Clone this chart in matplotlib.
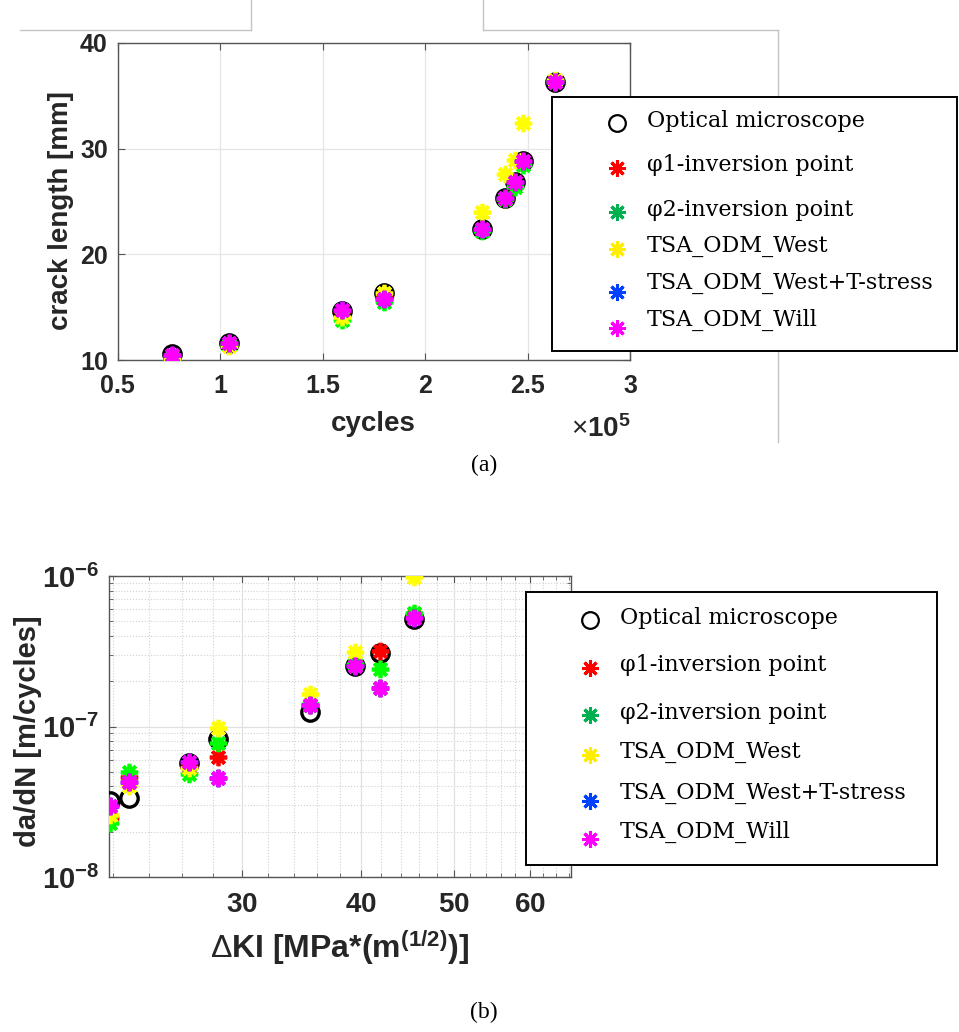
import matplotlib
matplotlib.use("Agg")
import matplotlib.pyplot as plt
from matplotlib.lines import Line2D
from matplotlib.patches import Rectangle
from matplotlib.ticker import FixedLocator, FixedFormatter, NullFormatter

plt.rcParams['font.family'] = ['Liberation Sans', 'DejaVu Sans']
plt.rcParams['mathtext.fontset'] = 'custom'
plt.rcParams['mathtext.rm'] = 'Liberation Sans'
plt.rcParams['mathtext.bf'] = 'Liberation Sans:bold'
plt.rcParams['mathtext.it'] = 'Liberation Sans:italic'

# ---- (a) crack length vs cycles (cycles in units of 1e5) ----
cycles = [0.766, 1.044, 1.594, 1.798, 2.28, 2.39, 2.44, 2.48, 2.634]
a_optical = [10.6, 11.6, 14.6, 16.3, 22.4, 25.3, 26.8, 28.8, 36.3]
a_phi1 = [10.5, 11.6, 14.6, 16.0, 22.4, 25.2, 26.8, 28.8, 36.3]
a_phi2 = [9.9, 11.4, 13.8, 15.5, 22.2, 25.2, 26.4, 28.5, 36.3]
a_west = [10.2, 11.3, 14.1, 16.3, 24.0, 27.6, 28.9, 32.4, 36.5]
a_west_t = [10.5, 11.6, 14.7, 15.8, 22.4, 25.3, 26.8, 28.8, 36.3]
a_will = [10.5, 11.6, 14.7, 15.8, 22.4, 25.3, 26.8, 28.8, 36.3]

# ---- (b) da/dN vs delta K ----
dK = [21.86, 22.87, 26.4, 28.35, 35.34, 39.4, 41.85, 45.4]
dadn_optical = [3.2e-8, 3.37e-8, 5.69e-8, 8.22e-8, 1.256e-7, 2.52e-7, 3.06e-7, 5.15e-7]
dadn_phi1 = [2.45e-8, 4.6e-8, 5.4e-8, 6.3e-8, 1.38e-7, 2.55e-7, 3.18e-7, 5.4e-7]
dadn_phi2 = [2.3e-8, 4.95e-8, 4.83e-8, 7.8e-8, 1.42e-7, 2.6e-7, 2.4e-7, 5.7e-7]
dadn_west = [2.58e-8, 4.03e-8, 5.27e-8, 9.72e-8, 1.64e-7, 3.11e-7, 1.81e-7, 9.9e-7]
dadn_west_t = [2.97e-8, 4.3e-8, 5.83e-8, 4.55e-8, 1.4e-7, 2.52e-7, 1.81e-7, 5.28e-7]
dadn_will = [2.97e-8, 4.3e-8, 5.83e-8, 4.53e-8, 1.4e-7, 2.52e-7, 1.81e-7, 5.28e-7]

labels = ["Optical microscope", "φ1-inversion point", "φ2-inversion point",
          "TSA_ODM_West", "TSA_ODM_West+T-stress", "TSA_ODM_Will"]
colors = ["black", "#ff0000", "#00ff00", "#ffff00", "#0033ff", "#ff00ff"]
leg_colors = ["black", "#ff0000", "#00b050", "#ffee00", "#0040ff", "#ff00ff"]
ASTER = (8, 2, 0)
AX_C = "#555555"
TXT_C = "#262626"

W, H = 959, 1032
fx = lambda px: px / W
fy = lambda py: 1 - py / H

fig = plt.figure(figsize=(W / 100, H / 100), dpi=100)
fig.patch.set_facecolor("white")


def draw_series(ax, x, ys):
    for i, y in enumerate(ys):
        if i == 0:
            ax.plot(x, y, ls="none", marker="o", ms=12.5, mfc="none", mec=colors[0], mew=2.4, zorder=3)
        else:
            ax.plot(x, y, ls="none", marker=ASTER, ms=12.5, mec=colors[i], mew=2.7, zorder=3 + i)


def style_axes(ax):
    for s in ax.spines.values():
        s.set_color(AX_C)
        s.set_linewidth(1.0)
    ax.tick_params(which="both", direction="in", top=True, right=True, colors=AX_C,
                   labelcolor=TXT_C)
    ax.tick_params(which="major", length=5)
    ax.tick_params(which="minor", length=3)


# ---------------- panel (a) ----------------
ax1 = fig.add_axes([fx(117.5), fy(360), 512.5 / W, 317 / H])
draw_series(ax1, cycles, [a_optical, a_phi1, a_phi2, a_west, a_west_t, a_will])
ax1.set_xlim(0.5, 3)
ax1.set_ylim(10, 40)
ax1.set_xticks([0.5, 1, 1.5, 2, 2.5, 3])
ax1.set_xticklabels(["0.5", "1", "1.5", "2", "2.5", "3"])
ax1.set_yticks([10, 20, 30, 40])
ax1.grid(True, color="#e6e6e6", lw=0.9)
ax1.set_axisbelow(True)
style_axes(ax1)
ax1.tick_params(axis="x", pad=10, labelsize=18)
ax1.tick_params(axis="y", pad=7, labelsize=18)
for t in ax1.get_xticklabels() + ax1.get_yticklabels():
    t.set_fontweight("bold")
ax1.set_xlabel("cycles", fontsize=20, fontweight="bold", color=TXT_C)
ax1.set_ylabel("crack length [mm]", fontsize=20, fontweight="bold", color=TXT_C)
ax1.xaxis.set_label_coords(0.5, -0.16)
ax1.yaxis.set_label_coords(-0.085, 0.47)
fig.text(fx(631), fy(437), r"$\times\mathbf{10^{5}}$", ha="right", va="baseline",
         fontsize=20, color=TXT_C)

# ---------------- panel (b) ----------------
ax2 = fig.add_axes([fx(109), fy(877), 462 / W, 301 / H])
draw_series(ax2, dK, [dadn_optical, dadn_phi1, dadn_phi2, dadn_west, dadn_west_t, dadn_will])
ax2.set_xscale("log")
ax2.set_yscale("log")
ax2.set_xlim(21.8, 66.3)
ax2.set_ylim(1e-8, 1e-6)
ax2.xaxis.set_major_locator(FixedLocator([30, 40, 50, 60]))
ax2.xaxis.set_major_formatter(FixedFormatter([r"$\mathbf{30}$", r"$\mathbf{40}$",
                                              r"$\mathbf{50}$", r"$\mathbf{60}$"]))
ax2.xaxis.set_minor_locator(FixedLocator([v for v in range(22, 67, 2) if v % 10]))
ax2.xaxis.set_minor_formatter(NullFormatter())
ax2.yaxis.set_major_locator(FixedLocator([1e-8, 1e-7, 1e-6]))
ax2.yaxis.set_major_formatter(FixedFormatter([r"$\mathbf{10^{-8}}$", r"$\mathbf{10^{-7}}$",
                                              r"$\mathbf{10^{-6}}$"]))
ax2.yaxis.set_minor_locator(FixedLocator([k * 10.0 ** e for e in (-8, -7) for k in range(2, 10)]))
ax2.yaxis.set_minor_formatter(NullFormatter())
ax2.grid(True, which="major", color="#e0e0e0", lw=0.9)
ax2.grid(True, which="minor", color="#d2d2d2", lw=0.8, ls=":")
ax2.set_axisbelow(True)
style_axes(ax2)
ax2.tick_params(axis="x", which="major", pad=11, labelsize=20)
ax2.tick_params(axis="y", which="major", pad=7, labelsize=21)
ax2.set_xlabel(r"$\Delta\mathbf{KI\ [MPa{*}(m^{(1/2)})]}$", fontsize=23, color=TXT_C)
ax2.set_ylabel("da/dN [m/cycles]", fontsize=21, fontweight="bold", color=TXT_C)
ax2.xaxis.set_label_coords(0.5, -0.17)
ax2.yaxis.set_label_coords(-0.145, 0.483)


# ---------------- legends (drawn on the figure) ----------------
def draw_legend(box, mx, tx, marker_y, text_y):
    x0, y0, x1, y1 = box
    fig.add_artist(Rectangle((fx(x0), fy(y1)), (x1 - x0) / W, (y1 - y0) / H,
                             transform=fig.transFigure, fc="white", ec="black", lw=1.4, zorder=5))
    for i, lab in enumerate(labels):
        if i == 0:
            m = dict(marker="o", ms=12, mfc="none", mec="black", mew=1.6)
        else:
            m = dict(marker=ASTER, ms=12, mec=leg_colors[i], mew=2.2)
        fig.add_artist(Line2D([fx(mx)], [fy(marker_y[i])], transform=fig.transFigure,
                              ls="none", zorder=6, **m))
        fig.text(fx(tx), fy(text_y[i]), lab, ha="left", va="center", fontsize=16,
                 family=["DejaVu Serif"], color="black", zorder=6)


draw_legend((552, 97, 957, 351), 617, 647,
            [123, 168, 212, 249, 292, 328], [121, 165, 210, 246, 283, 320])
draw_legend((526, 592, 937, 865), 590, 620,
            [620, 668, 715, 755, 801, 839], [618, 665, 713, 752, 793, 832])

# screenshot frame edges around panel (a)
for xs, ys in [([20, 251], [30, 30]), ([251, 251], [0, 30]), ([483, 483], [0, 30]),
               ([483, 778], [30, 30]), ([778, 778], [30, 442])]:
    fig.add_artist(Line2D([fx(v) for v in xs], [fy(v) for v in ys], transform=fig.transFigure,
                          color="#c4c4c4", lw=1.0, zorder=1))

fig.text(fx(484), fy(465), "(a)", ha="center", va="center", fontsize=17, family=["Liberation Serif"])
fig.text(fx(484), fy(1012), "(b)", ha="center", va="center", fontsize=17, family=["Liberation Serif"])

fig.savefig("out.png", dpi=100, facecolor="white")
